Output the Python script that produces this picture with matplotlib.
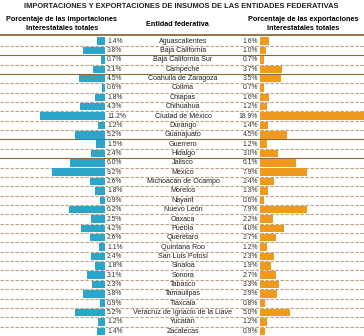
import matplotlib.pyplot as plt
from matplotlib.lines import Line2D

plt.rcParams["font.family"] = ["Liberation Sans", "DejaVu Sans"]

states = [
    "Aguascalientes", "Baja California", "Baja California Sur", "Campeche",
    "Coahuila de Zaragoza", "Colima", "Chiapas", "Chihuahua",
    "Ciudad de México", "Durango", "Guanajuato", "Guerrero", "Hidalgo",
    "Jalisco", "México", "Michoacán de Ocampo", "Morelos", "Nayarit",
    "Nuevo León", "Oaxaca", "Puebla", "Querétaro", "Quintana Roo",
    "San Luis Potosí", "Sinaloa", "Sonora", "Tabasco", "Tamaulipas",
    "Tlaxcala", "Veracruz de Ignacio de la Llave", "Yucatán", "Zacatecas",
]
imports = [1.4, 3.8, 0.7, 2.1, 4.5, 0.6, 1.8, 4.3, 11.2, 1.2, 5.2, 1.5, 2.4,
           6.0, 9.2, 2.6, 1.8, 0.9, 6.2, 2.5, 4.2, 2.6, 1.1, 2.4, 1.8, 3.1,
           2.3, 3.8, 0.9, 5.2, 1.2, 1.4]
exports = [1.6, 1.0, 0.7, 3.7, 3.5, 0.7, 1.6, 1.2, 18.9, 1.4, 4.5, 1.2, 3.0,
           6.1, 7.9, 2.4, 1.3, 0.6, 7.9, 2.2, 4.0, 2.7, 1.2, 2.3, 1.9, 2.7,
           3.3, 2.9, 0.8, 5.0, 1.2, 0.9]

title = "IMPORTACIONES Y EXPORTACIONES DE INSUMOS DE LAS ENTIDADES FEDERATIVAS"
head_left = "Porcentaje de las importaciones\nInterestatales totales"
head_mid = "Entidad federativa"
head_right = "Porcentaje de las exportaciones\nInterestatales totales"

W, H = 364, 336
blue = "#2ba6c8"
orange = "#ef9a1c"
brown = "#8a6a3a"
tan = "#b9a282"

fig = plt.figure(figsize=(W / 100, H / 100), dpi=100)
top = (H - 36.5) / H
n = len(states)
ys = list(range(n))

# text / grid layer in pixel x units
ax_t = fig.add_axes([0, 0, 1, top])
ax_t.set_xlim(0, W)
ax_t.set_ylim(n - 0.5, -0.5)
ax_t.axis("off")

for i in range(n - 1):
    solid = i in (1, 3, 10, 12)
    ax_t.axhline(i + 0.5, color=brown if solid else tan, lw=0.8,
                 ls="-" if solid else (0, (3, 1.5)), zorder=0)

for i, (s, a, b) in enumerate(zip(states, imports, exports)):
    ax_t.text(107, i, f"{a:.1f}%", ha="left", va="center", fontsize=4.9, color="#333333")
    ax_t.text(183, i, s, ha="center", va="center", fontsize=5.1, color="#222222")
    ax_t.text(258, i, f"{b:.1f}%", ha="right", va="center", fontsize=4.9, color="#333333")

# imports bars (grow to the left)
ax_l = fig.add_axes([0, 0, 105 / W, top])
ax_l.barh(ys, imports, height=0.8, color=blue)
ax_l.set_xlim(105 / 5.77, 0)
ax_l.set_ylim(n - 0.5, -0.5)
ax_l.axis("off")

# exports bars
ax_r = fig.add_axes([260 / W, 0, 104 / W, top])
ax_r.barh(ys, exports, height=0.8, color=orange)
ax_r.set_xlim(0, 104 / 5.9)
ax_r.set_ylim(n - 0.5, -0.5)
ax_r.axis("off")

fig.text(181 / W, 1 - 6 / H, title, ha="center", va="center",
         fontsize=5.4, fontweight="bold", color="#222222")
fig.text(62 / W, 1 - 24 / H, head_left, ha="center", va="center",
         fontsize=5.2, fontweight="bold", linespacing=1.45)
fig.text(177 / W, 1 - 24 / H, head_mid, ha="center", va="center",
         fontsize=5.2, fontweight="bold")
fig.text(303 / W, 1 - 24 / H, head_right, ha="center", va="center",
         fontsize=5.2, fontweight="bold", linespacing=1.45)
fig.add_artist(Line2D([0, 1], [1 - 34.6 / H] * 2, color=brown, lw=1.3,
                      transform=fig.transFigure))

fig.savefig("out.png", dpi=100)
